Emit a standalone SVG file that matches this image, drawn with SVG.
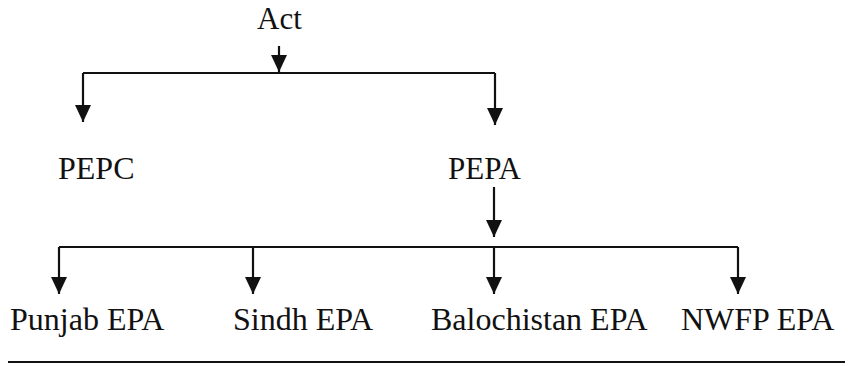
<svg xmlns="http://www.w3.org/2000/svg" width="852" height="366" viewBox="0 0 852 366">
<style>
text{font-family:"Liberation Serif","Times New Roman",serif;font-size:32px;fill:#111}
.c{stroke:#111;stroke-width:2.2;fill:none}
</style>
<defs>
<marker id="ah" viewBox="0 0 17 16" refX="17" refY="8" markerWidth="17" markerHeight="16" markerUnits="userSpaceOnUse" orient="auto">
<path d="M0,0 L17,8 L0,16 Z" fill="#111"/>
</marker>
</defs>
<rect width="852" height="366" fill="#fff"/>
<g id="connectors">
<path class="c" d="M279,46 V72" marker-end="url(#ah)"/>
<path class="c" d="M83,73 H495"/>
<path class="c" d="M83,73 V122" marker-end="url(#ah)"/>
<path class="c" d="M495,73 V125" marker-end="url(#ah)"/>
<path class="c" d="M494,187 V237" marker-end="url(#ah)"/>
<path class="c" d="M59,247 H738"/>
<path class="c" d="M59,247 V294" marker-end="url(#ah)"/>
<path class="c" d="M253,247 V294" marker-end="url(#ah)"/>
<path class="c" d="M494,247 V294" marker-end="url(#ah)"/>
<path class="c" d="M738,247 V294" marker-end="url(#ah)"/>
<path class="c" d="M8,362 H845" stroke-width="2.5"/>
</g>
<g id="act"><text x="257" y="29" style="font-size:31px">Act</text></g>
<g id="pepc"><text x="58" y="179">PEPC</text></g>
<g id="pepa"><text x="448" y="179" style="font-size:31px">PEPA</text></g>
<g id="punjab"><text x="10" y="330">Punjab EPA</text></g>
<g id="sindh"><text x="233" y="330">Sindh EPA</text></g>
<g id="balochistan"><text x="431" y="330">Balochistan EPA</text></g>
<g id="nwfp"><text x="681" y="330">NWFP EPA</text></g>
</svg>
